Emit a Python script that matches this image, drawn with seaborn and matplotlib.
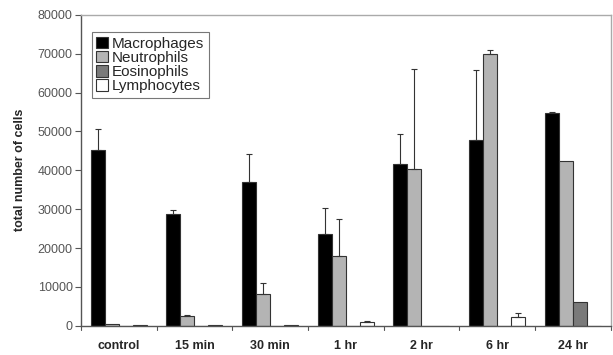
import matplotlib
matplotlib.use("Agg")
import matplotlib.pyplot as plt
import seaborn as sns
import pandas as pd
import numpy as np

categories = ["control", "15 min", "30 min", "1 hr", "2 hr", "6 hr", "24 hr"]
cell_types = ["Macrophages", "Neutrophils", "Eosinophils", "Lymphocytes"]
macrophages = [45100, 28700, 37000, 23600, 41600, 47900, 54700]
macrophages_err = [5600, 1100, 7200, 6800, 7700, 17800, 300]
neutrophils = [400, 2500, 8200, 18000, 40400, 70000, 42300]
neutrophils_err = [0, 300, 2900, 9400, 25800, 900, 0]
eosinophils = [0, 0, 0, 0, 0, 0, 6200]
eosinophils_err = [0, 0, 0, 0, 0, 0, 0]
lymphocytes = [200, 200, 300, 900, 0, 2300, 0]
lymphocytes_err = [0, 0, 0, 400, 0, 900, 0]

values = [macrophages, neutrophils, eosinophils, lymphocytes]
errors = [macrophages_err, neutrophils_err, eosinophils_err, lymphocytes_err]
colors = ["#000000", "#b4b4b4", "#7a7a7a", "#ffffff"]

rows = []
for ct, vals in zip(cell_types, values):
    for cat, v in zip(categories, vals):
        rows.append({"time": cat, "cell": ct, "count": v})
df = pd.DataFrame(rows)

sns.set_style("white")
plt.rcParams["font.family"] = ["Liberation Sans", "DejaVu Sans"]

fig = plt.figure(figsize=(6.13, 3.55), dpi=100)
ax = fig.add_axes([0.132, 0.0825, 0.864, 0.8755])

sns.barplot(data=df, x="time", y="count", hue="cell", order=categories,
            hue_order=cell_types, palette=colors, width=0.74,
            edgecolor="#333333", linewidth=0.8, errorbar=None, ax=ax,
            saturation=1)

for cont, errs in zip(ax.containers, errors):
    for bar, e in zip(cont, errs):
        if e > 0:
            x = bar.get_x() + bar.get_width() / 2
            h = bar.get_height()
            ax.errorbar([x], [h], yerr=[[0], [e]], fmt="none",
                        ecolor="#333333", elinewidth=0.8, capsize=2.5,
                        capthick=0.8)

ax.set_ylim(0, 80000)
ax.set_xlim(-0.5, 6.5)
ax.set_yticks(np.arange(0, 80001, 10000))
ax.set_yticklabels([str(v) for v in range(0, 80001, 10000)],
                   fontsize=9, color="#555555")
ax.set_xticks(range(len(categories)))
ax.set_xticklabels(categories, fontsize=9, fontweight="bold")
ax.set_xlabel("")
ax.set_ylabel("total number of cells", fontsize=9, fontweight="bold", labelpad=8)

ax.tick_params(axis="x", length=0, pad=10)
ax.tick_params(axis="y", left=True, length=4, width=0.8, color="#555555", pad=2)
for b in np.arange(-0.5, 7.0, 1.0):
    ax.plot([b, b], [0, -1000], color="#555555", lw=0.8, clip_on=False)

for s in ["left", "bottom"]:
    ax.spines[s].set_color("#555555")
    ax.spines[s].set_linewidth(1.0)
for s in ["top", "right"]:
    ax.spines[s].set_color("#aaaaaa")
    ax.spines[s].set_linewidth(1.0)

leg = ax.legend(loc="upper left", bbox_to_anchor=(0.02, 0.945), fontsize=11,
                frameon=True, fancybox=False, edgecolor="#555555",
                handlelength=0.8, handleheight=0.8, handletextpad=0.25,
                labelspacing=0.0, borderpad=0.3, borderaxespad=0)
leg.get_frame().set_linewidth(0.8)
for h in leg.legend_handles:
    h.set_edgecolor("#333333")

fig.savefig("out.png", dpi=100)
